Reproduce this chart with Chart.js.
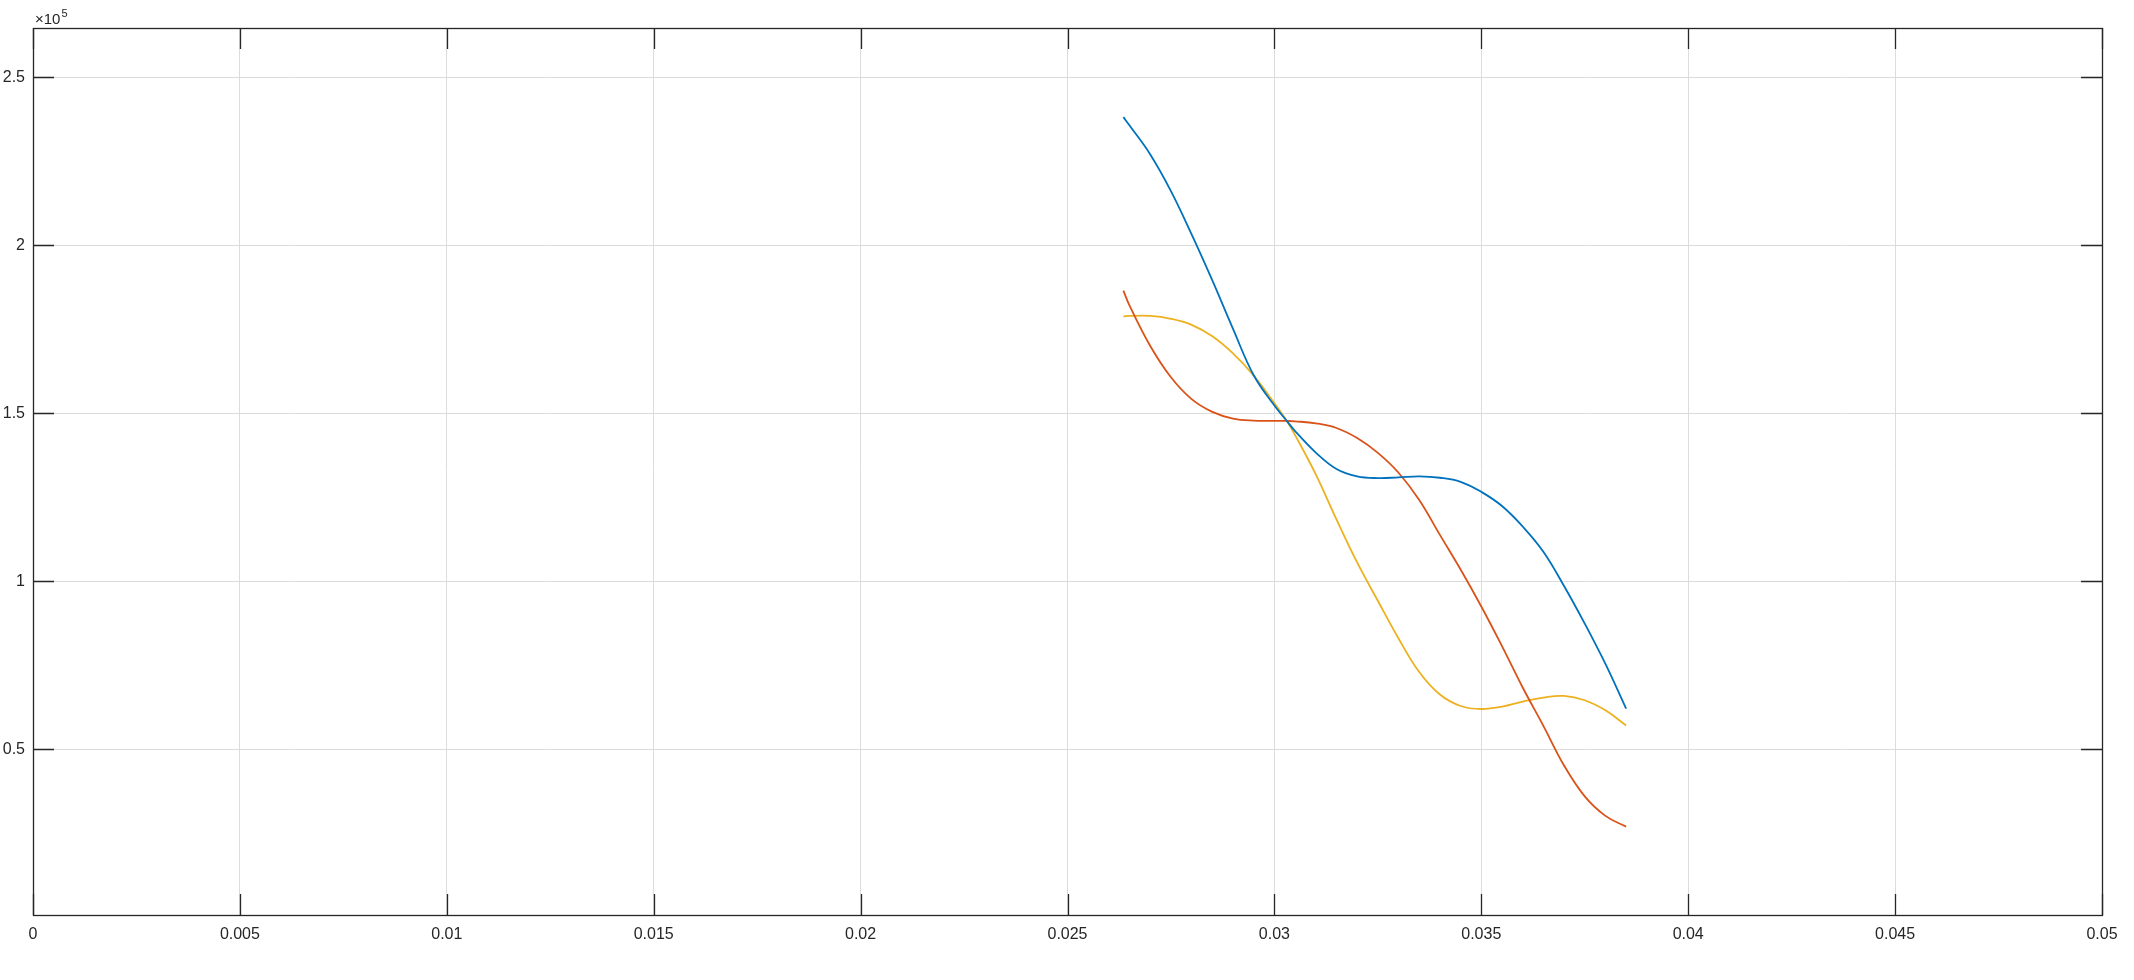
<!DOCTYPE html>
<html>
<head>
<meta charset="utf-8">
<script src="https://cdn.jsdelivr.net/npm/chart.js@4/dist/chart.umd.min.js"></script>
<style>
    html, body { margin: 0; padding: 0; background: #fff; }
    #wrap { width: 2134px; height: 980px; position: relative; }
</style>
</head>
<body>
<div id="wrap"><canvas id="plot"></canvas></div>
<script>
// ==========================================
// DATA
// ==========================================
const xTicks = [0, 0.005, 0.01, 0.015, 0.02, 0.025, 0.03, 0.035, 0.04, 0.045, 0.05];
const yTicks = [50000, 100000, 150000, 200000, 250000];
const xLimits = [0, 0.05];
const yLimits = [714, 264613];
const yExponent = 5;

const xSamples = [0.02635, 0.0265, 0.027, 0.0275, 0.028, 0.0285, 0.029, 0.0295, 0.03, 0.0303,
    0.0305, 0.031, 0.0315, 0.032, 0.0325, 0.033, 0.0335, 0.034, 0.0345, 0.035,
    0.0355, 0.036, 0.0365, 0.037, 0.0375, 0.038, 0.0385];

const yBlue = [238100, 235600, 227000, 216100, 203200, 189500, 175100, 161300, 152300, 147700,
    144700, 138300, 133400, 131200, 130700, 130900, 131200, 130800, 129600, 126600,
    122400, 116300, 108800, 98600, 87400, 75400, 62100];

const yRed = [186500, 182000, 170000, 160700, 154200, 150400, 148400, 147800, 147750, 147700,
    147600, 147000, 145600, 142600, 138200, 132300, 124200, 113800, 103500, 92500,
    80700, 68400, 57000, 45200, 36000, 30200, 27000];

const yYellow = [178800, 178950, 178950, 178100, 176300, 172900, 167800, 161200, 153000, 147700,
    143500, 131800, 118400, 105600, 94200, 83000, 73000, 66300, 62900, 62000,
    62700, 64200, 65400, 65900, 64600, 61600, 57100];

const FONT = '"Liberation Sans", Arial, Helvetica, sans-serif';
const INK = '#262626';

function toPoints(xs, ys) {
    return xs.map((x, i) => ({ x: x, y: ys[i] }));
}

function lineSet(ys, color) {
    return {
        data: toPoints(xSamples, ys),
        borderColor: color,
        borderWidth: 1.8,
        pointRadius: 0,
        fill: false,
        tension: 0.4
    };
}

// caja, marcas interiores y el factor x10^5
const matlabBox = {
    id: 'matlabBox',
    afterDraw(chart) {
        const { ctx, chartArea: a, scales } = chart;
        const len = 21;
        ctx.save();
        ctx.strokeStyle = INK;
        ctx.lineWidth = 1.3;
        ctx.beginPath();
        xTicks.forEach(t => {
            const px = Math.round(scales.x.getPixelForValue(t)) + 0.5;
            ctx.moveTo(px, a.bottom); ctx.lineTo(px, a.bottom - len);
            ctx.moveTo(px, a.top); ctx.lineTo(px, a.top + len);
        });
        yTicks.forEach(t => {
            const py = Math.round(scales.y.getPixelForValue(t)) + 0.5;
            ctx.moveTo(a.left, py); ctx.lineTo(a.left + len, py);
            ctx.moveTo(a.right, py); ctx.lineTo(a.right - len, py);
        });
        ctx.stroke();
        ctx.strokeRect(Math.round(a.left) + 0.5, Math.round(a.top) + 0.5,
            Math.round(a.right - a.left), Math.round(a.bottom - a.top));

        ctx.fillStyle = INK;
        ctx.textBaseline = 'alphabetic';
        ctx.font = '15px ' + FONT;
        ctx.fillText('\u00d710', a.left + 2, a.top - 4);
        const w = ctx.measureText('\u00d710').width;
        ctx.font = '11px ' + FONT;
        ctx.fillText(String(yExponent), a.left + 3 + w, a.top - 11);
        ctx.restore();
    }
};

new Chart(document.getElementById('plot'), {
    type: 'line',
    data: {
        datasets: [
            lineSet(yBlue, '#0072BD'),
            lineSet(yRed, '#D95319'),
            lineSet(yYellow, '#EDB120')
        ]
    },
    options: {
        responsive: true,
        maintainAspectRatio: false,
        animation: false,
        events: [],
        layout: { padding: { left: 0, top: 28, right: 32, bottom: 0 } },
        plugins: { legend: { display: false }, tooltip: { enabled: false } },
        scales: {
            x: {
                type: 'linear',
                min: xLimits[0],
                max: xLimits[1],
                afterBuildTicks: s => { s.ticks = xTicks.map(v => ({ value: v })); },
                afterFit: s => { s.height = 65; },
                grid: { color: '#dcdcdc', drawTicks: false },
                border: { display: false },
                ticks: {
                    color: INK,
                    font: { family: FONT, size: 16 },
                    padding: 10,
                    maxRotation: 0,
                    autoSkip: false,
                    callback: v => String(+v.toFixed(4))
                }
            },
            y: {
                type: 'linear',
                min: yLimits[0],
                max: yLimits[1],
                afterBuildTicks: s => { s.ticks = yTicks.map(v => ({ value: v })); },
                afterFit: s => { s.width = 33; },
                grid: { color: '#dcdcdc', drawTicks: false },
                border: { display: false },
                ticks: {
                    color: INK,
                    font: { family: FONT, size: 16 },
                    padding: 8,
                    autoSkip: false,
                    callback: v => String(+(v / Math.pow(10, yExponent)).toFixed(2))
                }
            }
        }
    },
    plugins: [matlabBox]
});
</script>
</body>
</html>
